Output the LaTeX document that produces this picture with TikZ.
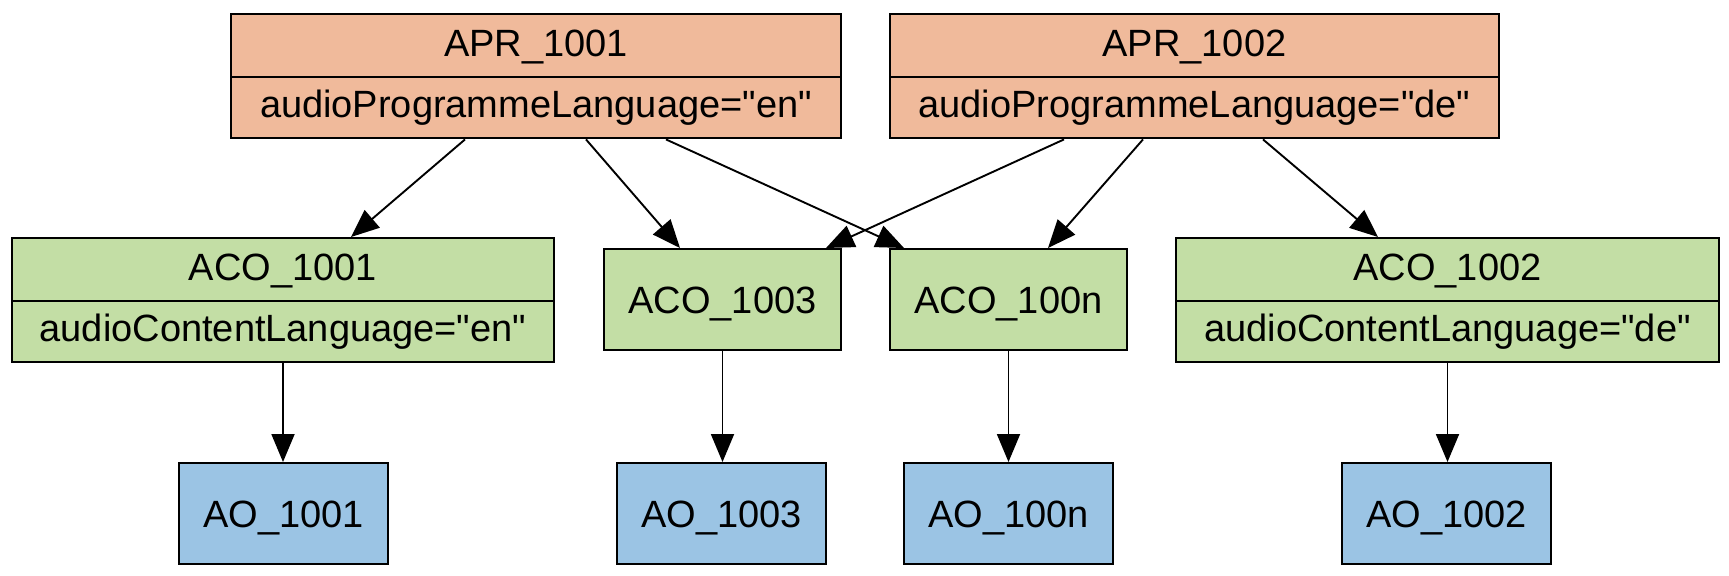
\documentclass[tikz,border=0pt]{standalone}
\usepackage{fontspec}
\setmainfont{Liberation Sans}[Ligatures=TeXOff]
\usetikzlibrary{shapes.multipart,arrows.meta,calc}
\definecolor{aprfill}{RGB}{240,186,155}
\definecolor{acofill}{RGB}{195,222,165}
\definecolor{aofill}{RGB}{155,196,228}
\tikzset{
  basebox/.style={draw=black, line width=1pt, anchor=north west, inner xsep=0pt, align=center, font=\fontsize{19}{22}\selectfont},
  splitbox/.style={basebox, rectangle split, rectangle split parts=2, text height=14.6pt, text depth=3.9pt, inner ysep=6pt},
  aprbox/.style={splitbox, fill=aprfill},
  acobox/.style={splitbox, fill=acofill},
  acosmall/.style={basebox, fill=acofill, text height=13.6pt, text depth=0pt, inner ysep=0pt, minimum width=118.5pt, minimum height=50.5pt},
  aobox/.style={basebox, fill=aofill, text height=13.6pt, text depth=0pt, inner ysep=0pt, minimum width=104.5pt, minimum height=50.5pt},
  edge/.style={draw=black, line width=0.95pt, -{Triangle[length=14pt,width=11.5pt]}}
}
\begin{document}
\begin{tikzpicture}[x=0.5pt, y=-0.5pt]
\useasboundingbox (0,0) rectangle (1729,575);
\node[aprbox, text width=305pt] (apr1) at (230,13) {APR\_1001\nodepart{two}audioProgrammeLanguage="en"};
\node[aprbox, text width=304.5pt] (apr2) at (889,13) {APR\_1002\nodepart{two}audioProgrammeLanguage="de"};
\node[acobox, text width=271pt] (aco1) at (11,237) {ACO\_1001\nodepart{two}audioContentLanguage="en"};
\node[acosmall] (aco3) at (603,248) {ACO\_1003};
\node[acosmall] (acon) at (889,248) {ACO\_100n};
\node[acobox, text width=271.5pt] (aco2) at (1175,237) {ACO\_1002\nodepart{two}audioContentLanguage="de"};
\node[aobox] (ao1) at (178,462) {AO\_1001};
\node[aobox] (ao3) at (616,462) {AO\_1003};
\node[aobox] (aon) at (903,462) {AO\_100n};
\node[aobox] (ao2) at (1341,462) {AO\_1002};
\draw[edge] ($(apr1.south west)+(235,0)$) -- ($(aco1.north west)+(340,0)$);
\draw[edge] ($(apr1.south west)+(356,0)$) -- ($(aco3.north west)+(77,0)$);
\draw[edge] ($(apr1.south west)+(436,0)$) -- ($(acon.north west)+(15,0)$);
\draw[edge] ($(apr2.south west)+(175,0)$) -- ($(aco3.north west)+(223,0)$);
\draw[edge] ($(apr2.south west)+(254,0)$) -- ($(acon.north west)+(159,0)$);
\draw[edge] ($(apr2.south west)+(374,0)$) -- ($(aco2.north west)+(203,0)$);
\draw[edge] (aco1.south) -- (aco1.south |- ao1.north);
\draw[edge] (aco3.south) -- (aco3.south |- ao3.north);
\draw[edge] (acon.south) -- (acon.south |- aon.north);
\draw[edge] (aco2.south) -- (aco2.south |- ao2.north);
\end{tikzpicture}
\end{document}
